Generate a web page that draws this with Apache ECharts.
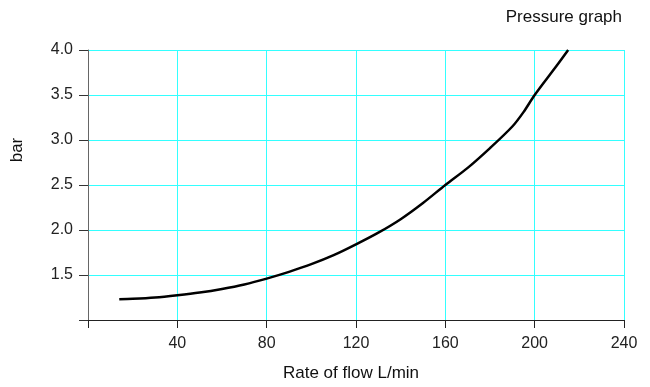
<!DOCTYPE html>
<html>
<head>
<meta charset="utf-8">
<script src="https://cdn.jsdelivr.net/npm/echarts@6/dist/echarts.min.js"></script>
<style>html,body{margin:0;padding:0;background:#fff;}#c{width:650px;height:387px;}</style>
</head>
<body>
<div id="c"></div>
<script>
const flow = [14, 20, 30, 40, 50, 60, 70, 80, 90, 100, 110, 120, 130, 140, 150, 160, 170, 180, 190, 195, 200, 210, 215];
const pressure = [1.23, 1.235, 1.25, 1.275, 1.305, 1.345, 1.395, 1.46, 1.535, 1.62, 1.72, 1.84, 1.97, 2.12, 2.30, 2.50, 2.69, 2.91, 3.15, 3.31, 3.50, 3.83, 4.0];
const xTicks = [0, 40, 80, 120, 160, 200, 240];
const yTicks = [1.0, 1.5, 2.0, 2.5, 3.0, 3.5, 4.0];
const title = 'Pressure graph';
const xName = 'Rate of flow L/min';
const yName = 'bar';

const chart = echarts.init(document.getElementById('c'), null, {renderer: 'canvas'});
const font = 'Liberation Sans, Arial, sans-serif';
chart.setOption({
  animation: false,
  title: {text: title, right: 23, top: 4, textStyle: {fontFamily: font, fontSize: 17, fontWeight: 'normal', color: '#111'}},
  grid: {left: 88, right: 26, top: 50, bottom: 67, containLabel: false, outerBoundsMode: 'none'},
  xAxis: {
    type: 'value', min: xTicks[0], max: xTicks[xTicks.length - 1], interval: 40,
    name: xName, nameLocation: 'middle', nameGap: 45,
    nameTextStyle: {fontFamily: font, fontSize: 17, color: '#111', padding: [0, 10, 0, 0]},
    axisLine: {show: true, lineStyle: {color: '#222', width: 1}},
    axisTick: {show: true, length: 8, lineStyle: {color: '#222'}},
    axisLabel: {margin: 16, fontFamily: font, fontSize: 16, color: '#222', formatter: v => v === 0 ? '' : String(v)},
    splitLine: {show: true, lineStyle: {color: '#33ffff', width: 1}}
  },
  yAxis: {
    type: 'value', min: yTicks[0], max: yTicks[yTicks.length - 1], interval: 0.5,
    name: yName, nameLocation: 'middle', nameGap: 62, nameRotate: 90,
    nameTextStyle: {fontFamily: font, fontSize: 17, color: '#111', padding: [0, 0, 0, 70]},
    axisLine: {show: true, lineStyle: {color: '#666', width: 1}},
    axisTick: {show: true, length: 9, lineStyle: {color: '#333'}},
    axisLabel: {margin: 15, fontFamily: font, fontSize: 16, color: '#222', formatter: v => v === 1 ? '' : v.toFixed(1)},
    splitLine: {show: true, lineStyle: {color: '#33ffff', width: 1}}
  },
  series: [{
    type: 'line', data: flow.map((x, i) => [x, pressure[i]]),
    smooth: 0.3, showSymbol: false, lineStyle: {color: '#000', width: 2.5}
  }]
});
</script>
</body>
</html>
